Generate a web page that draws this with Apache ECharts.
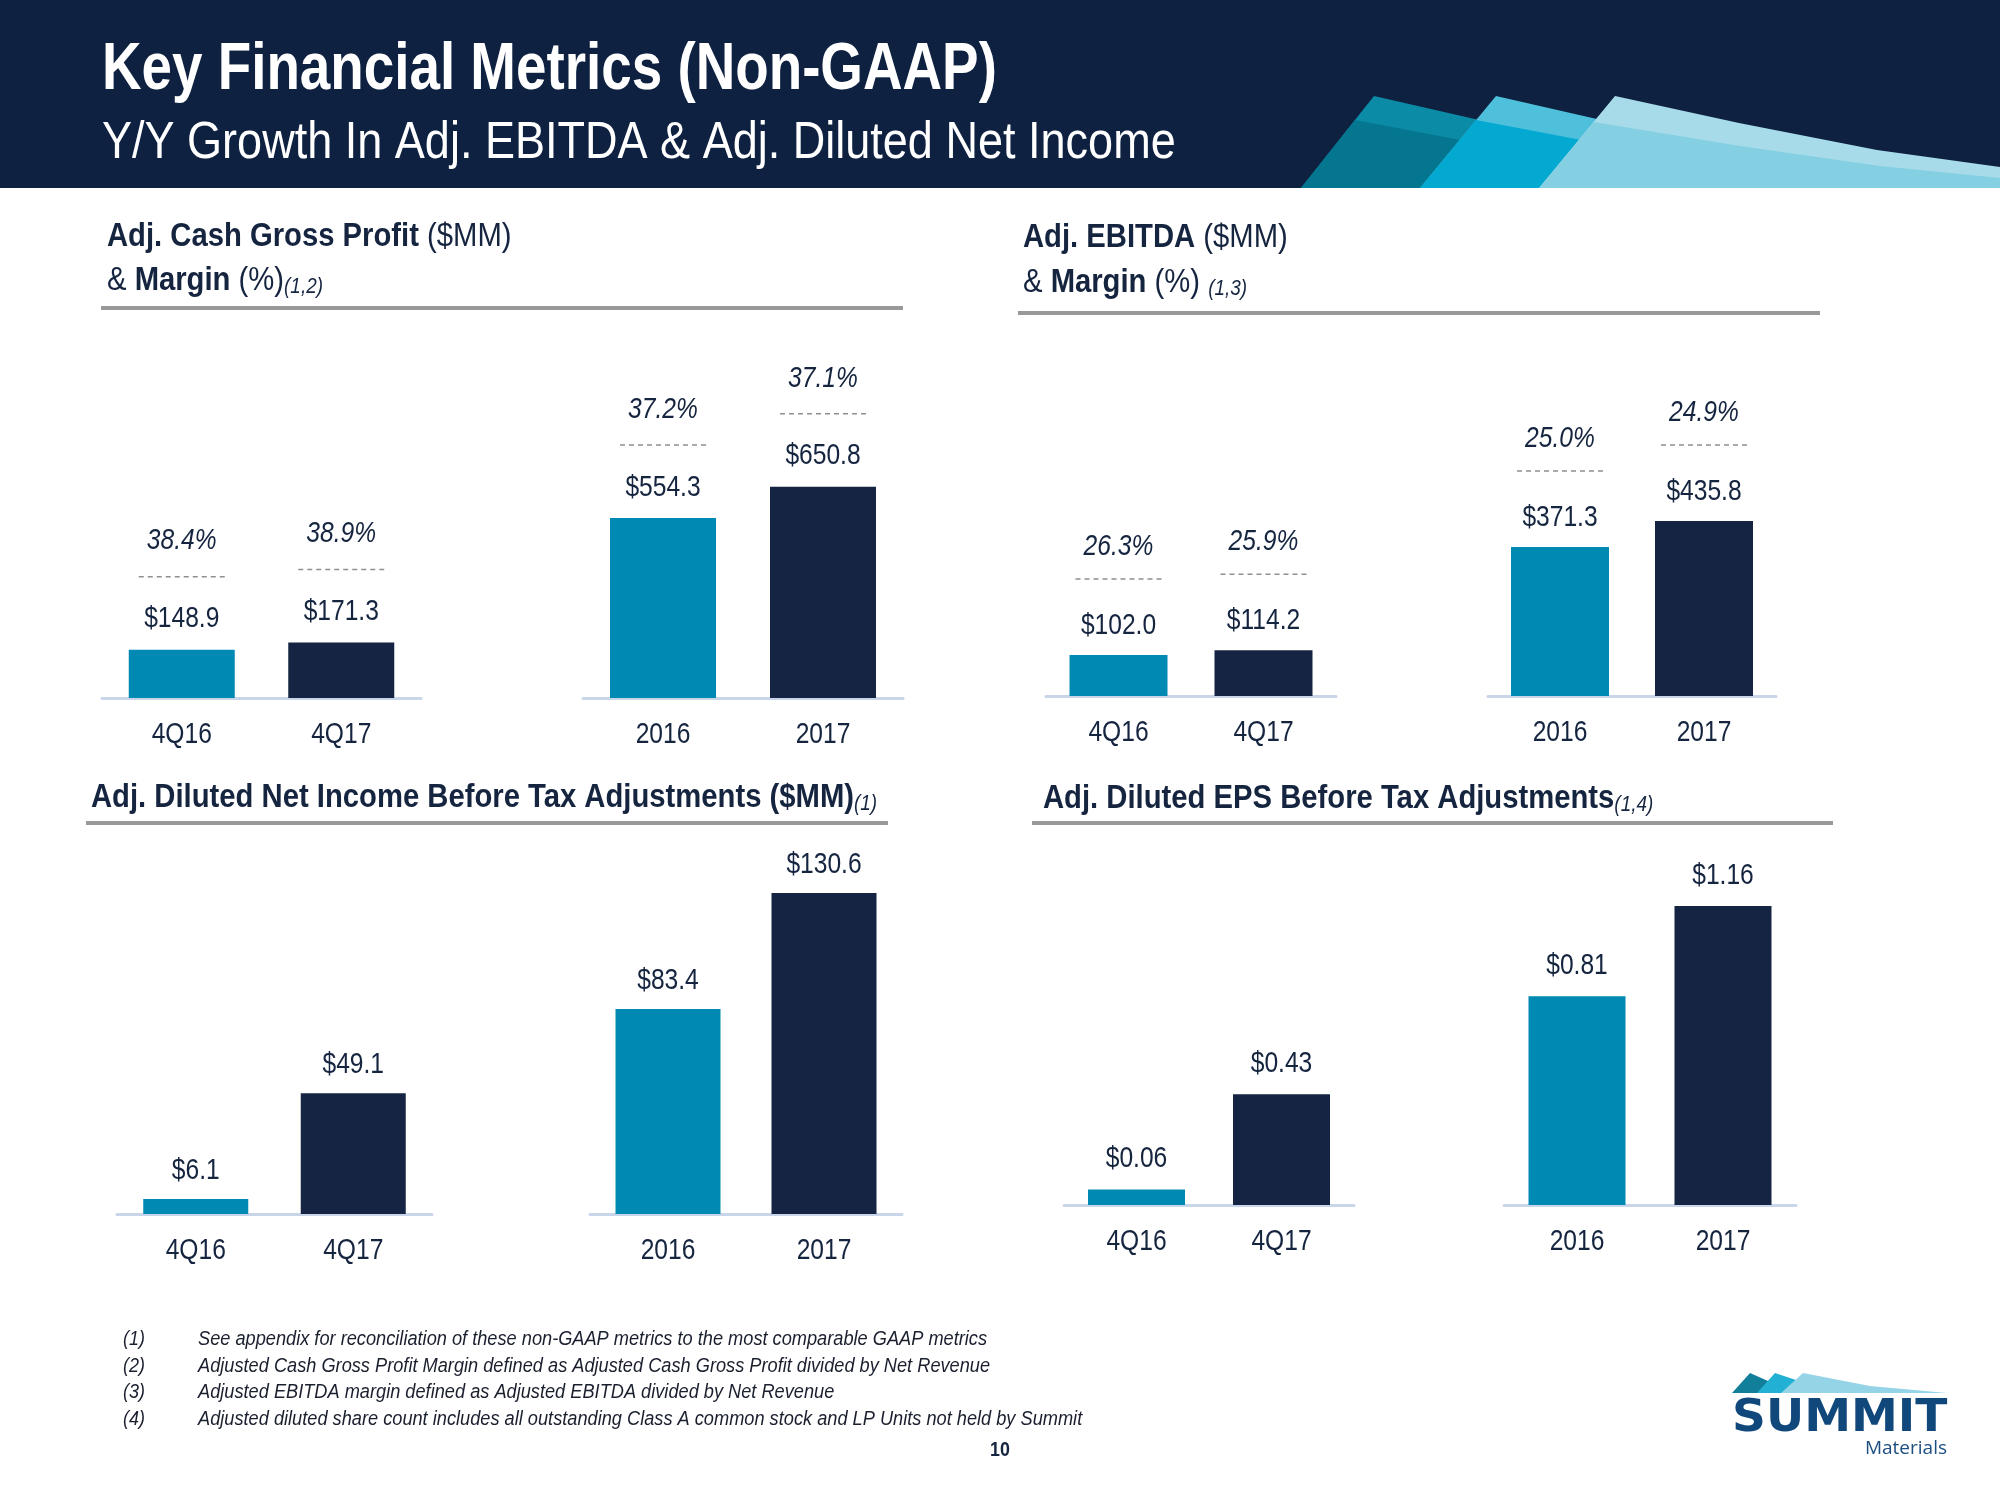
<!DOCTYPE html>
<html><head><meta charset="utf-8">
<script src="https://cdn.jsdelivr.net/npm/echarts@6/dist/echarts.min.js"></script>
<style>html,body{margin:0;padding:0;background:#fff}#c{width:2000px;height:1500px}</style>
</head><body><div id="c"></div>
<script>
// ---- data ----
const quarterCats = ['4Q16', '4Q17'];
const yearCats = ['2016', '2017'];
const cashGrossProfitQuarter = [148.9, 171.3];
const cashGrossProfitYear = [554.3, 650.8];
const cashGrossMarginQuarter = [38.4, 38.9];
const cashGrossMarginYear = [37.2, 37.1];
const ebitdaQuarter = [102.0, 114.2];
const ebitdaYear = [371.3, 435.8];
const ebitdaMarginQuarter = [26.3, 25.9];
const ebitdaMarginYear = [25.0, 24.9];
const netIncomeQuarter = [6.1, 49.1];
const netIncomeYear = [83.4, 130.6];
const epsQuarter = [0.06, 0.43];
const epsYear = [0.81, 1.16];
const footnoteMarks = ['(1)', '(2)', '(3)', '(4)'];
const footnoteTexts = [
  'See appendix for reconciliation of these non-GAAP metrics to the most comparable GAAP metrics',
  'Adjusted Cash Gross Profit Margin defined as Adjusted Cash Gross Profit divided by Net Revenue',
  'Adjusted EBITDA margin defined as Adjusted EBITDA divided by Net Revenue',
  'Adjusted diluted share count includes all outstanding Class A common stock and LP Units not held by Summit'
];

// ---- styles ----
const NAVY = '#15243f', TEAL = '#0089b3', BAR_NAVY = '#152442', HEADER = '#0e2140';
const SANS = "'Liberation Sans',Arial,sans-serif";
const NARROW_SCALE = 0.82;
const H = 400;

const panels = [
  {cats: quarterCats, vals: cashGrossProfitQuarter, margins: cashGrossMarginQuarter, left: 102, right: 421, base: 698, perPx: 3.08, barW: 106, dec: 1, dashOff: 73, pctGap: 25, valGap: 20},
  {cats: yearCats, vals: cashGrossProfitYear, margins: cashGrossMarginYear, left: 583, right: 903, base: 698, perPx: 3.08, barW: 106, dec: 1, dashOff: 73, pctGap: 25, valGap: 20},
  {cats: quarterCats, vals: ebitdaQuarter, margins: ebitdaMarginQuarter, left: 1046, right: 1336, base: 696, perPx: 2.49, barW: 98, dec: 1, dashOff: 76, pctGap: 22, valGap: 19},
  {cats: yearCats, vals: ebitdaYear, margins: ebitdaMarginYear, left: 1488, right: 1776, base: 696, perPx: 2.49, barW: 98, dec: 1, dashOff: 76, pctGap: 22, valGap: 19},
  {cats: quarterCats, vals: netIncomeQuarter, left: 117, right: 432, base: 1214, perPx: 0.407, barW: 105, dec: 1, valGap: 18},
  {cats: yearCats, vals: netIncomeYear, left: 590, right: 902, base: 1214, perPx: 0.407, barW: 105, dec: 1, valGap: 18},
  {cats: quarterCats, vals: epsQuarter, left: 1064, right: 1354, base: 1205, perPx: 0.00388, barW: 97, dec: 2, valGap: 20},
  {cats: yearCats, vals: epsYear, left: 1504, right: 1796, base: 1205, perPx: 0.00388, barW: 97, dec: 2, valGap: 20}
];

function narrowText(x, yMid, text, italic) {
  return {type: 'text', x: x, y: yMid, scaleX: NARROW_SCALE,
    style: {text: text, fontFamily: SANS, fontStyle: italic ? 'italic' : 'normal', fontSize: 30,
            fill: NAVY, align: 'center', verticalAlign: 'middle'}};
}

const grid = [], xAxis = [], yAxis = [], series = [];
panels.forEach((p, i) => {
  grid.push({left: p.left, top: p.base - H, width: p.right - p.left, height: H, outerBoundsMode: 'none', containLabel: false});
  xAxis.push({
    type: 'category', gridIndex: i, data: p.cats,
    axisLine: {show: true, lineStyle: {color: '#c9d5e8', width: 3}},
    axisTick: {show: false},
    axisLabel: {show: false}
  });
  yAxis.push({type: 'value', gridIndex: i, min: 0, max: p.perPx * H, show: false, splitLine: {show: false}});
  series.push({
    type: 'bar', xAxisIndex: i, yAxisIndex: i, data: p.vals, barWidth: p.barW,
    itemStyle: {color: (prm) => prm.dataIndex === 0 ? TEAL : BAR_NAVY}
  });
  // labels: value above bar, optional dashed line + margin %, category below axis
  series.push({
    type: 'custom', xAxisIndex: i, yAxisIndex: i, z: 5,
    data: p.vals.map((v, k) => [k, v, p.margins ? p.margins[k] : 0]),
    renderItem: function (params, api) {
      const k = api.value(0);
      const top = api.coord([k, api.value(1)]);
      const bottom = api.coord([k, 0]);
      const children = [
        narrowText(top[0], top[1] - p.valGap - 10.5, '$' + api.value(1).toFixed(p.dec), false),
        narrowText(bottom[0], bottom[1] + 47 - 10.5, p.cats[k], false)
      ];
      if (p.margins) {
        const y = top[1] - p.dashOff;
        children.push({type: 'line', shape: {x1: top[0] - 43, y1: y, x2: top[0] + 43, y2: y},
          style: {stroke: '#8f8f8f', lineWidth: 1.5, lineDash: [5, 4]}});
        children.push(narrowText(top[0], y - p.pctGap - 10.5, api.value(2).toFixed(1) + '%', true));
      }
      return {type: 'group', children: children};
    }
  });
});

const RICH = {
  b: {fontFamily: SANS, fontWeight: 'bold', fontSize: 34, fill: NAVY, verticalAlign: 'bottom'},
  r: {fontFamily: SANS, fontSize: 34, fill: NAVY, verticalAlign: 'bottom'},
  s: {fontFamily: SANS, fontStyle: 'italic', fontSize: 22, fill: NAVY, verticalAlign: 'bottom'}
};
function titleText(x, baseline, text) {
  return {type: 'text', x: x, y: baseline - 12, scaleX: 0.86,
    style: {text: text, rich: RICH, verticalAlign: 'middle', fill: NAVY, fontSize: 34, fontFamily: SANS}};
}

const graphic = [
  {type: 'rect', shape: {x: 0, y: 0, width: 2000, height: 188}, style: {fill: HEADER}},
  // header mountains
  {type: 'polygon', shape: {points: [[1301,188],[1374,96],[1777,188]]}, style: {fill: '#0c8ba7'}},
  {type: 'polygon', shape: {points: [[1301,188],[1355,120],[1713,188]]}, style: {fill: '#057690'}},
  {type: 'polygon', shape: {points: [[1420,188],[1496,96],[1899,188]]}, style: {fill: '#4fc0dc'}},
  {type: 'polygon', shape: {points: [[1420,188],[1476,120],[1834,188]]}, style: {fill: '#03a9d0'}},
  {type: 'polygon', shape: {points: [[1539,188],[1615,96],[1739,123],[1877,150],[2000,167],[2000,188]]}, style: {fill: '#a7dbe9'}},
  {type: 'polygon', shape: {points: [[1539,188],[1594,122],[1740,146],[1880,166],[2000,178],[2000,188]]}, style: {fill: '#85cfe3'}},
  {type: 'text', x: 102, y: 71, scaleX: 0.83, style: {text: 'Key Financial Metrics (Non-GAAP)', fontFamily: SANS, fontWeight: 'bold', fontSize: 66, fill: '#ffffff', verticalAlign: 'middle'}},
  {type: 'text', x: 102, y: 144, scaleX: 0.866, style: {text: 'Y/Y Growth In Adj. EBITDA & Adj. Diluted Net Income', fontFamily: SANS, fontSize: 52, fill: '#ffffff', verticalAlign: 'middle'}},
  // section titles
  titleText(107, 249, '{b|Adj. Cash Gross Profit} {r|($MM)}'),
  titleText(107, 293, '{r|&} {b|Margin} {r|(%)}{s|(1,2)}'),
  {type: 'rect', shape: {x: 101, y: 306, width: 802, height: 4}, style: {fill: '#999999'}},
  titleText(1023, 250, '{b|Adj. EBITDA} {r|($MM)}'),
  titleText(1023, 295, '{r|&} {b|Margin} {r|(%)} {s|(1,3)}'),
  {type: 'rect', shape: {x: 1018, y: 311, width: 802, height: 4}, style: {fill: '#999999'}},
  titleText(91, 810, '{b|Adj. Diluted Net Income Before Tax Adjustments ($MM)}{s|(1)}'),
  {type: 'rect', shape: {x: 86, y: 821, width: 802, height: 4}, style: {fill: '#999999'}},
  titleText(1043, 811, '{b|Adj. Diluted EPS Before Tax Adjustments}{s|(1,4)}'),
  {type: 'rect', shape: {x: 1032, y: 821, width: 801, height: 4}, style: {fill: '#999999'}},
  // page number
  {type: 'text', x: 1000, y: 1450, scaleX: 0.85, style: {text: '10', fontFamily: SANS, fontWeight: 'bold', fontSize: 21, fill: NAVY, align: 'center', verticalAlign: 'middle'}},
  // logo
  {type: 'polygon', shape: {points: [[1732,1393],[1750,1373],[1795,1393]]}, style: {fill: '#117f99'}},
  {type: 'polygon', shape: {points: [[1757,1393],[1775,1373],[1835,1393]]}, style: {fill: '#22b0d4'}},
  {type: 'polygon', shape: {points: [[1781,1393],[1803,1373],[1870,1386],[1947,1393]]}, style: {fill: '#95d3e6'}},
  {type: 'text', x: 1732, y: 1420, scaleX: 1.07, style: {text: 'SUMMIT', fontFamily: "'DejaVu Sans',sans-serif", fontWeight: 'bold', fontSize: 44, fill: '#11487c', verticalAlign: 'middle'}},
  {type: 'text', x: 1947, y: 1449, style: {text: 'Materials', fontFamily: "'Open Sans','Noto Sans',sans-serif", fontSize: 19, fill: '#1d4e80', align: 'right', verticalAlign: 'middle'}}
];
const footY = [1339, 1366, 1392, 1419];
footnoteMarks.forEach((m, k) => {
  graphic.push({type: 'text', x: 123, y: footY[k], scaleX: 0.9, style: {text: m, fontFamily: SANS, fontStyle: 'italic', fontSize: 20, fill: '#1a1f2e', verticalAlign: 'middle'}});
  graphic.push({type: 'text', x: 198, y: footY[k], scaleX: 0.91, style: {text: footnoteTexts[k], fontFamily: SANS, fontStyle: 'italic', fontSize: 20, fill: '#1a1f2e', verticalAlign: 'middle'}});
});

const chart = echarts.init(document.getElementById('c'), null, {renderer: 'canvas'});
chart.setOption({animation: false, backgroundColor: '#ffffff', grid, xAxis, yAxis, series, graphic});
</script></body></html>
